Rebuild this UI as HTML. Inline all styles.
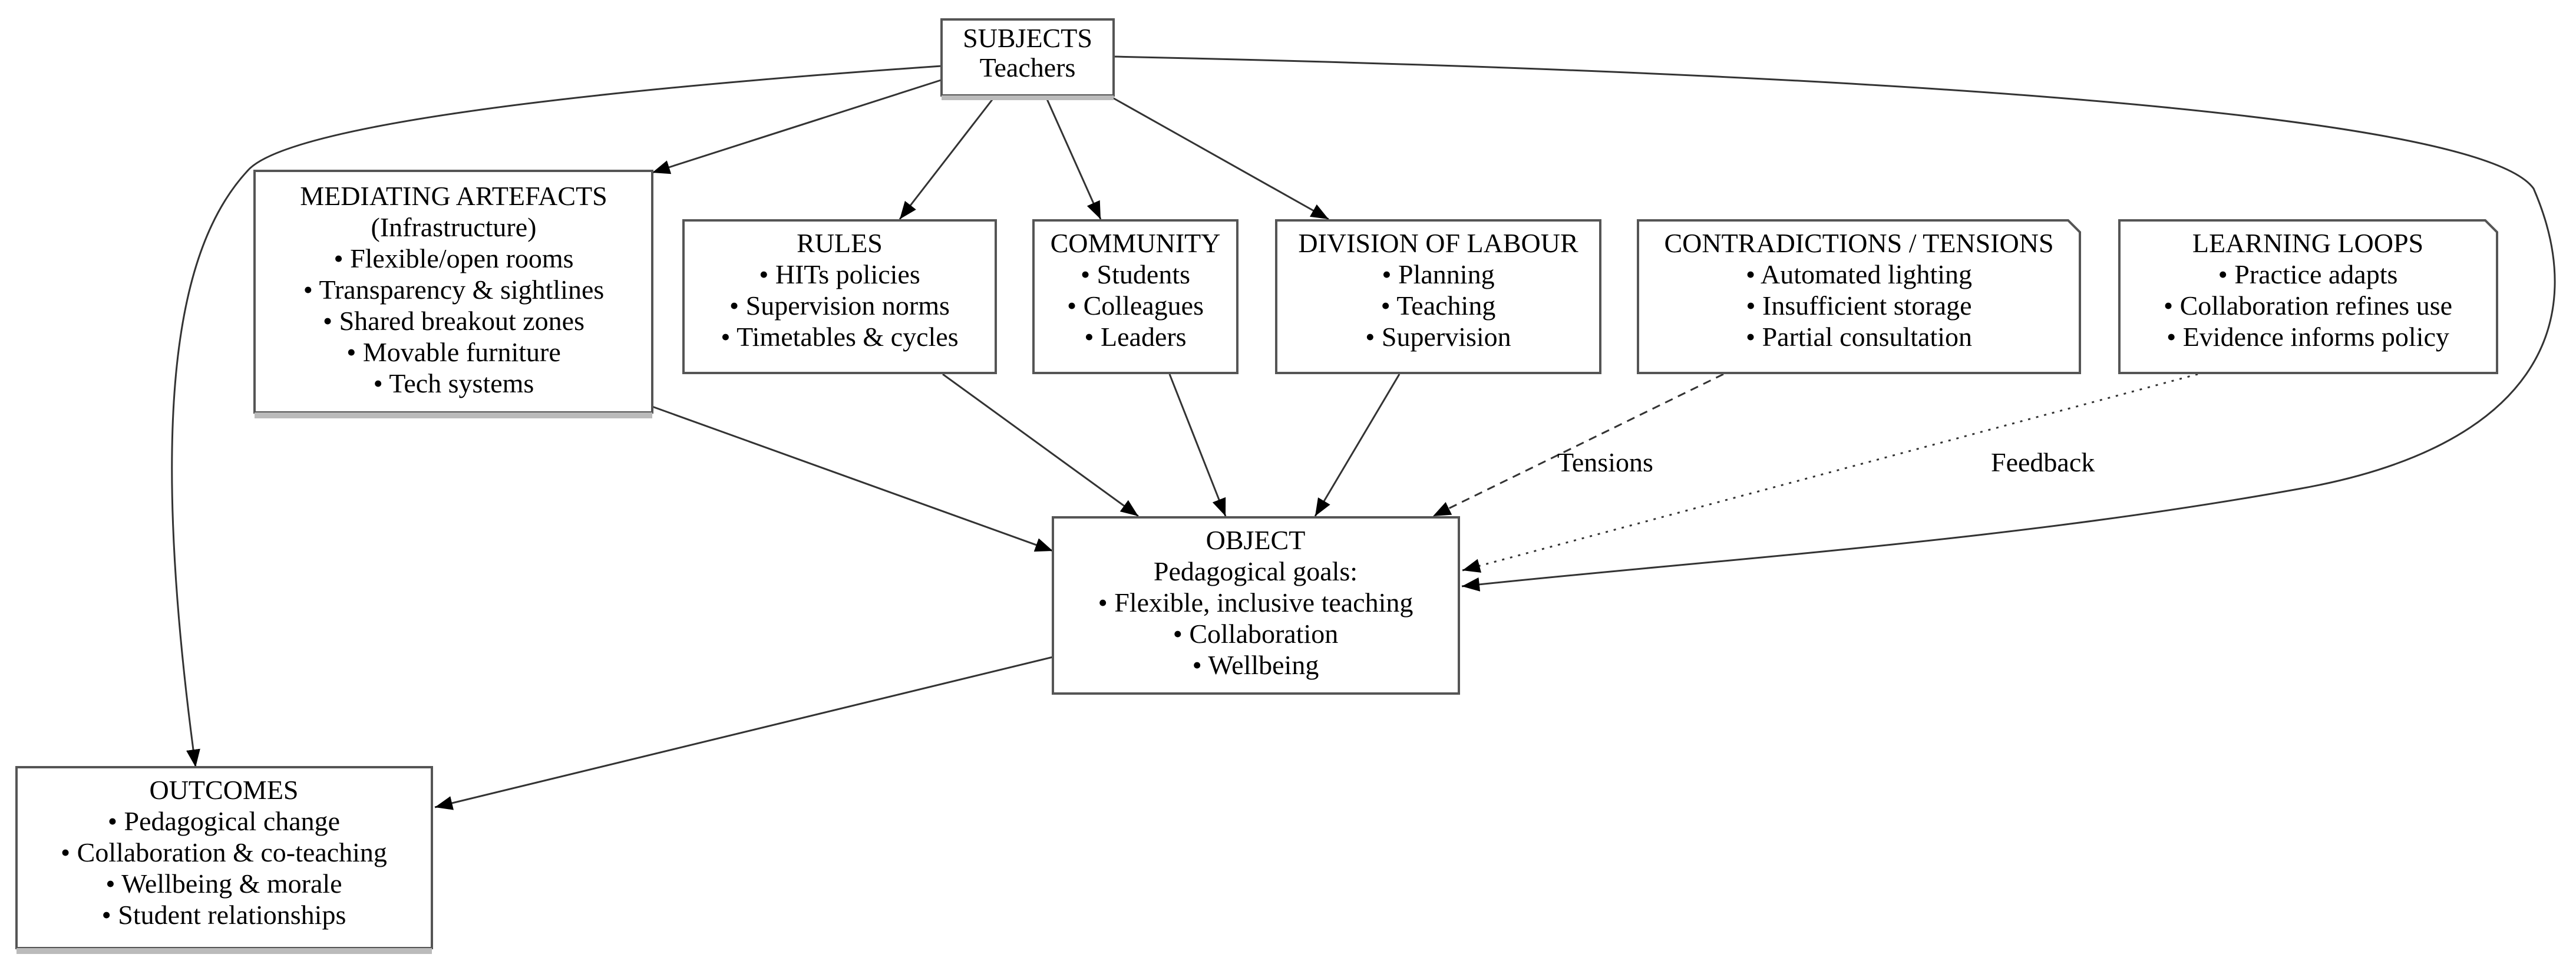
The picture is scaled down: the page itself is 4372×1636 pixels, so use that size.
<!DOCTYPE html>
<html><head><meta charset="utf-8"><style>
html,body{margin:0;padding:0;background:#fff;}
svg{display:block;}
text{font-family:"Liberation Serif",serif;font-size:46px;fill:#000;}
</style></head><body>
<svg width="4372" height="1636" viewBox="0 0 4372 1636" xmlns="http://www.w3.org/2000/svg">
<defs>
<marker id="ah" markerWidth="10" markerHeight="8" refX="9" refY="4" orient="auto" markerUnits="userSpaceOnUse" viewBox="0 0 10 8">
</marker>
<marker id="a" viewBox="0 0 10 10" refX="10" refY="5" markerWidth="30" markerHeight="30" markerUnits="userSpaceOnUse" orient="auto">
<path d="M0,1 L10,5 L0,9 z" fill="#000"/>
</marker>
</defs>
<g fill="none" stroke="#333" stroke-width="3">
<!-- subjects edges -->
<line x1="1600" y1="135" x2="1107" y2="293" marker-end="url(#a)"/>
<line x1="1688" y1="164" x2="1527" y2="372" marker-end="url(#a)"/>
<line x1="1775" y1="164" x2="1868" y2="372" marker-end="url(#a)"/>
<line x1="1885" y1="164" x2="2255" y2="372" marker-end="url(#a)"/>
<path d="M1598,112 C900,160 480,220 420,290 C300,420 250,700 332,1302" marker-end="url(#a)"/>
<path d="M1890,96 C3000,120 4200,180 4300,320 C4400,550 4300,760 3900,830 C3400,920 2900,950 2481,995" marker-end="url(#a)"/>
<!-- to object -->
<line x1="1107" y1="690" x2="1787" y2="935" marker-end="url(#a)"/>
<line x1="1600" y1="635" x2="1932" y2="876" marker-end="url(#a)"/>
<line x1="1985" y1="635" x2="2080" y2="876" marker-end="url(#a)"/>
<line x1="2375" y1="635" x2="2232" y2="876" marker-end="url(#a)"/>
<line x1="2925" y1="635" x2="2432" y2="876" stroke-dasharray="14,10" marker-end="url(#a)"/>
<line x1="3730" y1="635" x2="2482" y2="968" stroke-dasharray="4,10" marker-end="url(#a)"/>
<line x1="1787" y1="1115" x2="738" y2="1370" marker-end="url(#a)"/>
</g>
<text x="2643" y="800">Tensions</text>
<text x="3379" y="800">Feedback</text>
<g fill="#fff" stroke="#555" stroke-width="4">
<rect x="1598" y="33" width="292" height="129"/>
<rect x="432" y="290" width="675" height="410"/>
<rect x="1160" y="374" width="530" height="259"/>
<rect x="1754" y="374" width="346" height="259"/>
<rect x="2166" y="374" width="550" height="259"/>
<path d="M2780,374 L3510,374 L3530,394 L3530,633 L2780,633 Z"/>
<path d="M3597,374 L4218,374 L4238,394 L4238,633 L3597,633 Z"/>
<rect x="1787" y="878" width="689" height="299"/>
<rect x="28" y="1302" width="705" height="307"/>
</g>
<g fill="#bbb">
<rect x="1598" y="162" width="292" height="8"/>
<rect x="432" y="700" width="675" height="10"/>
<rect x="28" y="1609" width="705" height="10"/>
</g>
<g text-anchor="middle">
<text x="1744" y="80">SUBJECTS</text><text x="1744" y="130">Teachers</text>
<text x="770" y="348">MEDIATING ARTEFACTS</text>
<text x="770" y="401">(Infrastructure)</text>
<text x="770" y="454">• Flexible/open rooms</text>
<text x="770" y="507">• Transparency &amp; sightlines</text>
<text x="770" y="560">• Shared breakout zones</text>
<text x="770" y="613">• Movable furniture</text>
<text x="770" y="666">• Tech systems</text>
<text x="1425" y="428">RULES</text>
<text x="1425" y="481">• HITs policies</text>
<text x="1425" y="534">• Supervision norms</text>
<text x="1425" y="587">• Timetables &amp; cycles</text>
<text x="1927" y="428">COMMUNITY</text>
<text x="1927" y="481">• Students</text>
<text x="1927" y="534">• Colleagues</text>
<text x="1927" y="587">• Leaders</text>
<text x="2441" y="428">DIVISION OF LABOUR</text>
<text x="2441" y="481">• Planning</text>
<text x="2441" y="534">• Teaching</text>
<text x="2441" y="587">• Supervision</text>
<text x="3155" y="428">CONTRADICTIONS / TENSIONS</text>
<text x="3155" y="481">• Automated lighting</text>
<text x="3155" y="534">• Insufficient storage</text>
<text x="3155" y="587">• Partial consultation</text>
<text x="3917" y="428">LEARNING LOOPS</text>
<text x="3917" y="481">• Practice adapts</text>
<text x="3917" y="534">• Collaboration refines use</text>
<text x="3917" y="587">• Evidence informs policy</text>
<text x="2131" y="932">OBJECT</text>
<text x="2131" y="985">Pedagogical goals:</text>
<text x="2131" y="1038">• Flexible, inclusive teaching</text>
<text x="2131" y="1091">• Collaboration</text>
<text x="2131" y="1144">• Wellbeing</text>
<text x="380" y="1356">OUTCOMES</text>
<text x="380" y="1409">• Pedagogical change</text>
<text x="380" y="1462">• Collaboration &amp; co-teaching</text>
<text x="380" y="1515">• Wellbeing &amp; morale</text>
<text x="380" y="1568">• Student relationships</text>
</g>
</svg>
</body></html>
